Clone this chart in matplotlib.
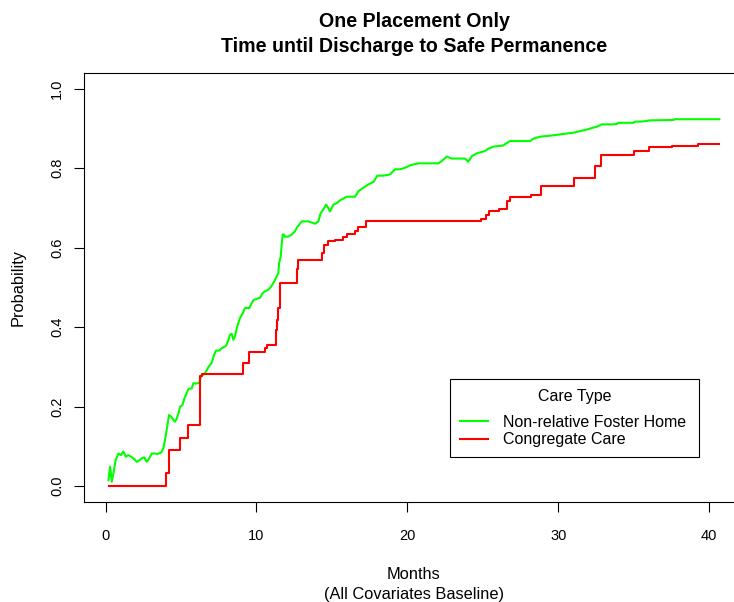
import matplotlib
matplotlib.use("Agg")
import matplotlib.pyplot as plt

plt.rcParams["font.family"] = ["Liberation Sans", "DejaVu Sans"]

# Predicted probability of discharge to safe permanence, by care type
foster_months = [0.19, 0.30, 0.41, 0.52, 0.67, 0.85, 1.03, 1.18, 1.34, 1.51, 1.69, 1.90, 2.06, 2.29,
                 2.40, 2.57, 2.73, 2.90, 3.06, 3.24, 3.46, 3.68, 3.83, 3.94, 4.05, 4.21, 4.34, 4.50,
                 4.60, 4.72, 4.83, 4.94, 5.09, 5.23, 5.38, 5.49, 5.71, 5.82, 6.04, 6.20, 6.33, 6.59,
                 6.81, 7.04, 7.19, 7.32, 7.55, 7.70, 7.99, 8.14, 8.25, 8.36, 8.47, 8.58, 8.73, 8.91,
                 9.09, 9.24, 9.53, 9.69, 9.80, 10.02, 10.24, 10.42, 10.57, 10.79, 10.95, 11.12, 11.30,
                 11.45, 11.50, 11.61, 11.67, 11.74, 11.81, 11.90, 12.12, 12.34, 12.56, 12.67, 13.00,
                 13.44, 13.88, 14.10, 14.26, 14.43, 14.61, 14.72, 14.88, 15.10, 15.32, 15.54, 15.98,
                 16.53, 16.76, 16.98, 17.42, 17.75, 18.01, 18.41, 18.85, 19.18, 19.52, 19.85, 20.18,
                 20.73, 22.06, 22.28, 22.61, 22.94, 23.82, 24.04, 24.27, 24.60, 25.15, 25.37, 25.70,
                 26.36, 26.58, 26.80, 28.13, 28.35, 28.79, 29.57, 30.34, 31.00, 31.45, 31.89, 32.33,
                 32.55, 32.88, 33.65, 33.88, 33.99, 34.98, 35.09, 35.53, 36.08, 37.63, 37.74, 40.68]
foster_prob = [0.015, 0.049, 0.011, 0.032, 0.066, 0.082, 0.078, 0.087, 0.074, 0.078, 0.074, 0.068,
               0.061, 0.066, 0.070, 0.072, 0.061, 0.070, 0.082, 0.082, 0.081, 0.084, 0.095, 0.116,
               0.141, 0.179, 0.175, 0.166, 0.162, 0.170, 0.183, 0.200, 0.204, 0.221, 0.234, 0.244,
               0.246, 0.259, 0.258, 0.260, 0.276, 0.284, 0.299, 0.311, 0.330, 0.341, 0.341, 0.347,
               0.353, 0.368, 0.381, 0.383, 0.368, 0.378, 0.402, 0.423, 0.435, 0.448, 0.448, 0.461,
               0.468, 0.471, 0.474, 0.486, 0.490, 0.494, 0.501, 0.511, 0.524, 0.536, 0.561, 0.578,
               0.608, 0.633, 0.633, 0.627, 0.628, 0.633, 0.641, 0.650, 0.666, 0.666, 0.660, 0.666,
               0.687, 0.696, 0.708, 0.702, 0.691, 0.708, 0.712, 0.719, 0.728, 0.728, 0.742, 0.748,
               0.759, 0.765, 0.781, 0.781, 0.784, 0.797, 0.797, 0.801, 0.807, 0.812, 0.812, 0.818,
               0.829, 0.824, 0.824, 0.816, 0.830, 0.837, 0.843, 0.849, 0.854, 0.857, 0.863, 0.868,
               0.868, 0.874, 0.879, 0.882, 0.886, 0.889, 0.893, 0.897, 0.902, 0.904, 0.910, 0.910,
               0.911, 0.914, 0.914, 0.917, 0.917, 0.920, 0.921, 0.923, 0.923]

congregate_months = [0.23, 4.01, 4.21, 4.94, 5.49, 6.28, 6.37, 9.09, 9.50, 10.57, 10.72, 11.30,
                     11.38, 11.45, 11.56, 12.67, 12.78, 14.33, 14.50, 14.72, 15.21, 15.76, 15.98,
                     16.53, 16.76, 17.26, 24.88, 25.21, 25.43, 26.10, 26.59, 26.81, 28.18, 28.84,
                     31.05, 32.44, 32.82, 35.04, 36.02, 37.52, 39.24, 40.68]
congregate_prob = [0.0, 0.032, 0.091, 0.122, 0.154, 0.276, 0.282, 0.309, 0.337, 0.347, 0.355, 0.393,
                   0.418, 0.448, 0.511, 0.546, 0.570, 0.587, 0.607, 0.616, 0.620, 0.627, 0.635,
                   0.641, 0.651, 0.668, 0.672, 0.681, 0.691, 0.697, 0.717, 0.728, 0.732, 0.755,
                   0.774, 0.805, 0.832, 0.842, 0.853, 0.855, 0.861, 0.861]

series_labels = ["Non-relative Foster Home", "Congregate Care"]
series_colors = ["#00FF00", "#FF0000"]
x_ticks = [0, 10, 20, 30, 40]
y_ticks = [0.0, 0.2, 0.4, 0.6, 0.8, 1.0]

fig = plt.figure(figsize=(7.34, 6.02), dpi=100)
ax = fig.add_axes([84 / 734, 100 / 602, 660 / 734, 429.3 / 602])

ax.plot(foster_months, foster_prob, color=series_colors[0], lw=1.5, label=series_labels[0])
ax.step(congregate_months, congregate_prob, where="post", color=series_colors[1], lw=1.5,
        label=series_labels[1])

ax.set_xlim(-1.43, 42.31)
ax.set_ylim(-0.04, 1.04)
ax.set_xticks(x_ticks)
ax.set_xticklabels([str(v) for v in x_ticks])
ax.set_yticks(y_ticks)
ax.set_yticklabels([f"{v:.1f}" for v in y_ticks])

for sp in ax.spines.values():
    sp.set_color("black")
    sp.set_linewidth(0.8)
ax.tick_params(axis="both", direction="out", length=7, width=0.8, colors="black",
               labelsize=10.5)
ax.tick_params(axis="x", pad=12.5)
ax.tick_params(axis="y", pad=7.2, labelrotation=90)
for lbl in ax.get_yticklabels():
    lbl.set_verticalalignment("center")

ax.set_title("One Placement Only\nTime until Discharge to Safe Permanence",
             fontsize=14.1, fontweight="bold", pad=15, linespacing=1.42)

ax.set_xlabel("Months\n(All Covariates Baseline)", fontsize=11.8, linespacing=1.41)
ax.xaxis.set_label_coords(0.5, (502 - 567) / 429.3)
fig.text(18 / 734, 1 - 287 / 602, "Probability", rotation=90, ha="center", va="center",
         fontsize=11.8)

leg = ax.legend(title="Care Type", loc="upper left",
                bbox_to_anchor=(366 / 660, 0.0, 249 / 660, (502 - 379) / 429.3),
                mode="expand", borderaxespad=0, fontsize=11.5, title_fontsize=11.5,
                fancybox=False, framealpha=1, edgecolor="black", handlelength=1.8,
                handletextpad=0.94, borderpad=0.6, labelspacing=0.15)
leg.get_frame().set_linewidth(0.8)
leg._legend_box.sep = 8.0

fig.savefig("out.png", dpi=100)
